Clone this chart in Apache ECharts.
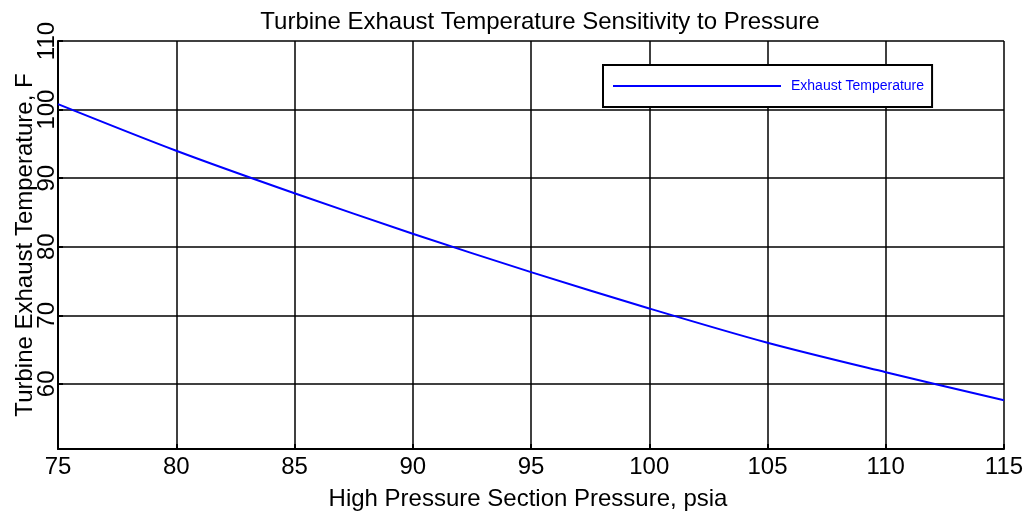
<!DOCTYPE html>
<html>
<head>
<meta charset="utf-8">
<script src="https://cdn.jsdelivr.net/npm/echarts@6/dist/echarts.min.js"></script>
<style>
  html, body { margin: 0; padding: 0; background: #fff; }
  #chart { width: 1029px; height: 513px; }
</style>
</head>
<body>
<div id="chart"></div>
<script>
// High pressure section pressure (psia) and turbine exhaust temperature (F)
const pressure = [75, 80, 85, 90, 95, 100, 105, 110, 115];
const exhaustTemp = [100.8, 94.0, 87.8, 81.9, 76.3, 71.0, 66.0, 61.7, 57.6];
const seriesName = 'Exhaust Temperature';

const font = 'Liberation Sans, Arial, Helvetica, sans-serif';
const chart = echarts.init(document.getElementById('chart'));

chart.setOption({
  animation: false,
  backgroundColor: '#fff',
  title: {
    text: 'Turbine Exhaust Temperature Sensitivity to Pressure',
    left: 535,
    textAlign: 'center',
    top: 5,
    textStyle: { fontFamily: font, fontSize: 24, fontWeight: 'normal', color: '#000' }
  },
  grid: { left: 58, right: 25, top: 41, bottom: 64, outerBoundsMode: 'none', containLabel: false },
  legend: {
    data: [{ name: seriesName, icon: 'rect' }],
    left: 603,
    top: 65,
    orient: 'horizontal',
    itemWidth: 168,
    itemHeight: 2,
    padding: [14, 8, 14, 10],
    itemGap: 0,
    backgroundColor: '#fff',
    borderColor: '#000',
    borderWidth: 2,
    borderRadius: 0,
    textStyle: { fontFamily: font, fontSize: 14, color: '#0000ff', padding: [5, 0, 0, 5] }
  },
  xAxis: {
    type: 'value',
    min: 75,
    max: 115,
    interval: 5,
    name: 'High Pressure Section Pressure, psia',
    nameLocation: 'middle',
    nameGap: 38,
    nameMoveOverlap: false,
    nameTextStyle: { fontFamily: font, fontSize: 24, color: '#000', padding: [0, 6, 0, 0] },
    axisLine: { show: true, lineStyle: { color: '#000', width: 2 } },
    axisTick: { show: true, inside: true, length: 5, lineStyle: { color: '#000', width: 2 } },
    axisLabel: { fontFamily: font, fontSize: 24, color: '#000', margin: 6 },
    splitLine: { show: true, lineStyle: { color: '#000', width: 1.5 } }
  },
  yAxis: {
    type: 'value',
    min: 50.5,
    max: 110,
    splitNumber: 5,
    name: 'Turbine Exhaust Temperature, F',
    nameLocation: 'middle',
    nameGap: 21,
    nameMoveOverlap: false,
    nameTextStyle: { fontFamily: font, fontSize: 24, color: '#000' },
    axisLine: { show: true, lineStyle: { color: '#000', width: 2 } },
    axisTick: { show: true, inside: true, length: 5, lineStyle: { color: '#000', width: 2 } },
    axisLabel: {
      fontFamily: font, fontSize: 24, color: '#000', rotate: 90, margin: -1,
      formatter: v => (Math.abs(v % 10) < 1e-9 ? String(v) : '')
    },
    splitLine: { show: true, lineStyle: { color: '#000', width: 1.5 } }
  },
  series: [{
    name: seriesName,
    type: 'line',
    data: pressure.map((p, i) => [p, exhaustTemp[i]]),
    symbol: 'none',
    smooth: 0.3,
    lineStyle: { color: '#0000ff', width: 2 },
    itemStyle: { color: '#0000ff' }
  }]
});
</script>
</body>
</html>
